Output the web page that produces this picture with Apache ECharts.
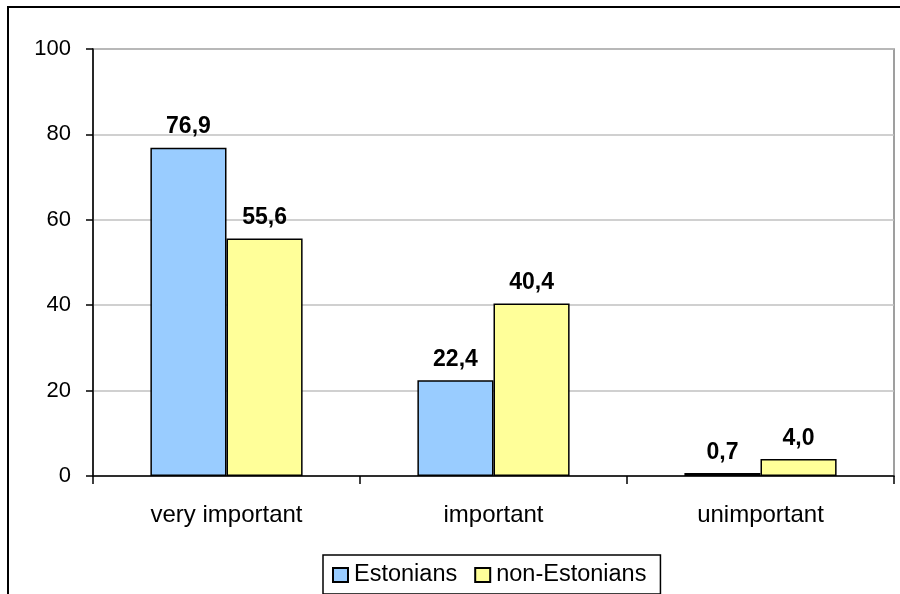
<!DOCTYPE html>
<html>
<head>
<meta charset="utf-8">
<script src="https://cdn.jsdelivr.net/npm/echarts@6/dist/echarts.min.js"></script>
<style>
  html, body { margin: 0; padding: 0; background: #fff; }
  #chart { width: 900px; height: 594px; }
</style>
</head>
<body>
<div id="chart"></div>
<script>
// categories and values
const categories = ['very important', 'important', 'unimportant'];
const estonians = [76.9, 22.4, 0.7];
const nonEstonians = [55.6, 40.4, 4.0];
const yTicks = [0, 20, 40, 60, 80, 100];

const font = 'Liberation Sans, Arial, sans-serif';

const chart = echarts.init(document.getElementById('chart'), null, { renderer: 'canvas' });

const fmt = (p) => p.value.toFixed(1).replace('.', ',');

const barLabel = {
  show: true,
  position: 'top',
  distance: 9,
  formatter: fmt,
  color: '#000',
  fontWeight: 'bold',
  fontSize: 23,
  fontFamily: font
};

const option = {
  animation: false,
  backgroundColor: '#fff',
  graphic: [
    {
      type: 'rect',
      z: -1,
      shape: { x: 8, y: 7, width: 1000, height: 1000 },
      style: { fill: 'none', stroke: '#000', lineWidth: 2 }
    }
  ],
  grid: {
    left: 93,
    top: 49,
    right: 6,
    bottom: 118,
    show: true,
    borderColor: '#808080',
    borderWidth: 1.5,
    backgroundColor: 'transparent'
  },
  legend: {
    left: 323,
    top: 555,
    padding: [8, 14, 7, 9],
    borderColor: '#000',
    borderWidth: 1.5,
    itemGap: 17,
    itemWidth: 15,
    itemHeight: 14,
    icon: 'rect',
    textStyle: { fontSize: 23.5, fontFamily: font, color: '#000', padding: [0, 0, 0, 1] },
    data: ['Estonians', 'non-Estonians']
  },
  xAxis: {
    type: 'category',
    data: categories,
    axisLine: { lineStyle: { color: '#000', width: 1.5 } },
    axisTick: { show: true, length: 8, lineStyle: { color: '#000', width: 1.5 } },
    axisLabel: { margin: 27, fontSize: 24, fontFamily: font, color: '#000' },
    splitLine: { show: false }
  },
  yAxis: {
    type: 'value',
    min: yTicks[0],
    max: yTicks[yTicks.length - 1],
    interval: 20,
    axisLine: { show: true, lineStyle: { color: '#000', width: 1.5 } },
    axisTick: { show: true, length: 7, lineStyle: { color: '#000', width: 1.5 } },
    axisLabel: { margin: 22, fontSize: 22, fontFamily: font, color: '#000' },
    splitLine: { show: true, lineStyle: { color: '#c0c0c0', width: 1.5 } }
  },
  series: [
    {
      name: 'Estonians',
      type: 'bar',
      data: estonians,
      barGap: '0%',
      barCategoryGap: '43%',
      itemStyle: { color: '#99ccff', borderColor: '#000', borderWidth: 1.5 },
      label: barLabel
    },
    {
      name: 'non-Estonians',
      type: 'bar',
      data: nonEstonians,
      barGap: '0%',
      barCategoryGap: '43%',
      itemStyle: { color: '#ffff99', borderColor: '#000', borderWidth: 1.5 },
      label: barLabel
    }
  ]
};

chart.setOption(option);
</script>
</body>
</html>
